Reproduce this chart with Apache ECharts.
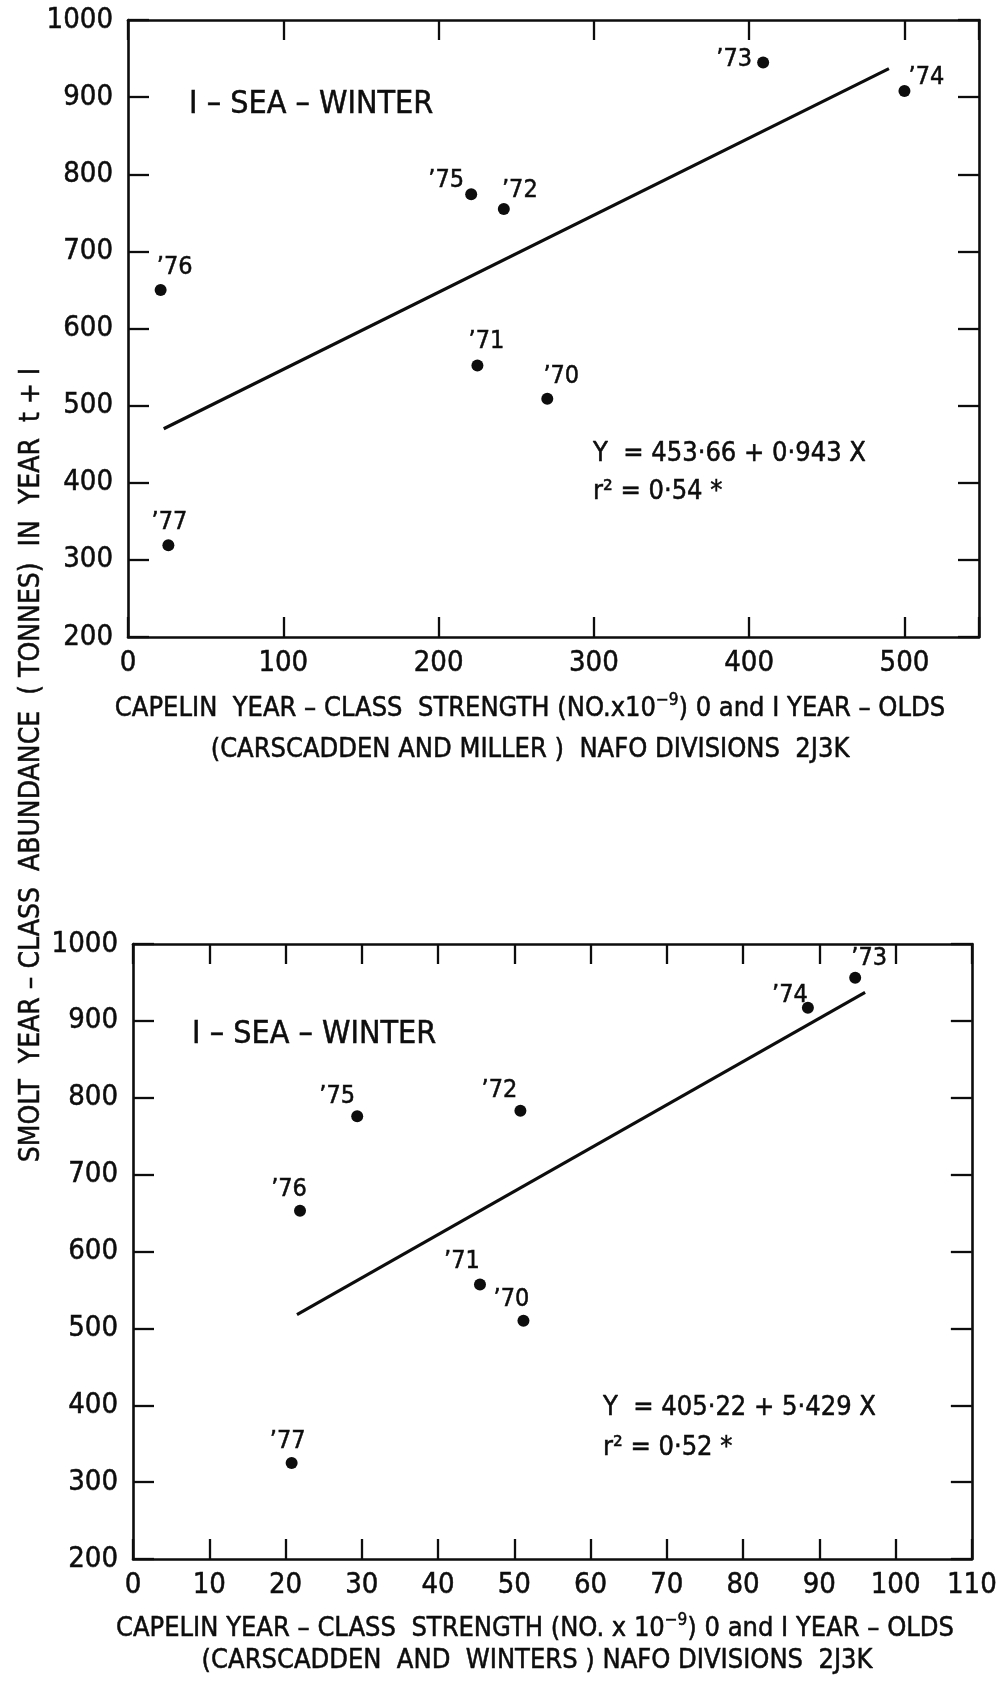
<!DOCTYPE html>
<html>
<head>
<meta charset="utf-8">
<script src="https://cdn.jsdelivr.net/npm/echarts@6/dist/echarts.min.js"></script>
<style>
  html, body { margin: 0; padding: 0; background: #fff; }
  #chart { width: 1000px; height: 1681px; }
</style>
</head>
<body>
<div id="chart"></div>
<script>
// Capelin year-class strength against 1-sea-winter smolt year-class abundance, NAFO 2J3K

const yearLabels = ['\u201970', '\u201971', '\u201972', '\u201973', '\u201974', '\u201975', '\u201976', '\u201977'];

// Upper panel: Carscadden and Miller capelin estimates (No. x 10^-9)
const capelinMiller = [270, 225, 242, 409, 500, 221, 21, 26];
const smoltUpper    = [509, 552, 755, 945, 908, 774, 650, 319];
const fitUpperX = [23, 490];
const fitUpperY = [470, 937];

// Lower panel: Carscadden and Winters capelin estimates (No. x 10^-9)
const capelinWinters = [51.2, 45.5, 50.8, 94.7, 88.5, 29.4, 21.9, 20.8];
const smoltLower     = [510, 557, 783, 956, 917, 776, 653, 325];
const fitLowerX = [21.5, 96];
const fitLowerY = [518, 937];

// Axis ranges and tick steps
const smoltRange = [200, 1000], smoltStep = 100;
const millerRange = [0, 548], millerStep = 100;
const wintersRange = [0, 110], wintersStep = 10;

// Year-tag placement next to each point, in screen pixels (same order as yearLabels)
const tagShiftUpper = [[14, -22], [9, -24], [16, -18], [-29, -3], [22, -13], [-25, -14], [14, -22], [1, -23]];
const tagShiftLower = [[-12, -21], [-18, -23], [-21, -20], [14, -19], [-18, -12], [-20, -20], [-11, -21], [-4, -21]];

const FONT = "'Liberation Sans Narrow','DejaVu Sans Condensed','Roboto Condensed','Liberation Sans',sans-serif";
const INK = '#0d0d0d';
const heavy = { textBorderColor: INK, textBorderWidth: 0.5 };

function points(xs, ys, shifts) {
  return xs.map((x, i) => ({
    name: yearLabels[i],
    value: [x, ys[i]],
    label: { offset: shifts[i] }
  }));
}
function pairs(xs, ys) { return xs.map((x, i) => [x, ys[i]]); }

const lineStyle = { color: INK, width: 2.6 };
const tickStyle = { color: INK, width: 2.3 };
function xAxes(gridIndex, range, step) {
  const base = {
    gridIndex, type: 'value', min: range[0], max: range[1], interval: step,
    splitLine: { show: false },
    axisLine: { show: true, onZero: false, lineStyle },
    axisTick: { show: true, inside: true, length: 20, lineStyle: tickStyle }
  };
  return [
    Object.assign({}, base, {
      position: 'bottom',
      axisLabel: Object.assign({
        show: true, color: INK, fontFamily: FONT, fontSize: 29, margin: 12,
        formatter: v => (v % step === 0 ? String(v) : '')
      }, heavy)
    }),
    Object.assign({}, base, { position: 'top', axisLabel: { show: false } })
  ];
}
function yAxes(gridIndex) {
  const base = {
    gridIndex, type: 'value', min: smoltRange[0], max: smoltRange[1], interval: smoltStep,
    splitLine: { show: false },
    axisLine: { show: true, onZero: false, lineStyle },
    axisTick: { show: true, inside: true, length: 21, lineStyle: tickStyle }
  };
  return [
    Object.assign({}, base, {
      position: 'left',
      axisLabel: Object.assign({
        show: true, color: INK, fontFamily: FONT, fontSize: 29, margin: 15,
        formatter: v => String(v)
      }, heavy)
    }),
    Object.assign({}, base, { position: 'right', axisLabel: { show: false } })
  ];
}

function scatterSeries(xi, yi, data) {
  return {
    type: 'scatter', xAxisIndex: xi, yAxisIndex: yi, data,
    symbol: 'circle', symbolSize: 12,
    itemStyle: { color: INK, opacity: 1 },
    label: Object.assign({
      show: true, position: 'inside', formatter: p => p.name,
      color: INK, fontFamily: FONT, fontSize: 25
    }, heavy),
    emphasis: { disabled: true },
    z: 3
  };
}
function fitSeries(xi, yi, data) {
  return {
    type: 'line', xAxisIndex: xi, yAxisIndex: yi, data,
    symbol: 'none', lineStyle: { color: INK, width: 3.2 }, z: 2
  };
}

// Axis title with a raised exponent
const titleRich = {
  a: { fontFamily: FONT, fontSize: 27, fill: INK, lineHeight: 34 },
  sup: { fontFamily: FONT, fontSize: 17, fill: INK, lineHeight: 34, padding: [0, 0, 16, 0] }
};
function richTitle(x, y, str) {
  return {
    type: 'text', x, y,
    style: {
      text: str, rich: titleRich, fill: INK, stroke: INK, lineWidth: 0.5,
      fontFamily: FONT, fontSize: 27,
      textAlign: 'center', textVerticalAlign: 'middle'
    }
  };
}
function text(x, y, str, size, extra) {
  return Object.assign({
    type: 'text', x, y,
    style: Object.assign({
      text: str, fill: INK, fontFamily: FONT, fontSize: size,
      textAlign: 'left', textVerticalAlign: 'middle',
      stroke: INK, lineWidth: 0.5
    }, (extra && extra.style) || {})
  }, extra && extra.el ? extra.el : {});
}

const chart = echarts.init(document.getElementById('chart'), null, { renderer: 'canvas' });
chart.setOption({
  backgroundColor: '#fff',
  animation: false,
  grid: [
    { left: 128, right: 21, top: 20, height: 617 },
    { left: 133, right: 16, top: 944, height: 615 }
  ],
  xAxis: [].concat(xAxes(0, millerRange, millerStep), xAxes(1, wintersRange, wintersStep)),
  yAxis: [].concat(yAxes(0), yAxes(1)),
  series: [
    fitSeries(0, 0, pairs(fitUpperX, fitUpperY)),
    scatterSeries(0, 0, points(capelinMiller, smoltUpper, tagShiftUpper)),
    fitSeries(2, 2, pairs(fitLowerX, fitLowerY)),
    scatterSeries(2, 2, points(capelinWinters, smoltLower, tagShiftLower))
  ],
  graphic: [
    // panel tags
    text(189, 105, 'I \u2013 SEA \u2013 WINTER', 32),
    text(192, 1035, 'I \u2013 SEA \u2013 WINTER', 32),
    // regression statistics
    text(593, 454, 'Y  = 453\u00b766 + 0\u00b7943 X', 27),
    text(593, 492, 'r\u00b2 = 0\u00b754 *', 27),
    text(603, 1408, 'Y  = 405\u00b722 + 5\u00b7429 X', 27),
    text(603, 1448, 'r\u00b2 = 0\u00b752 *', 27),
    // x-axis titles
    richTitle(530, 709, '{a|CAPELIN  YEAR \u2013 CLASS  STRENGTH (NO.x10}{sup|\u22129}{a|) 0 and I YEAR \u2013 OLDS}'),
    text(530, 750, '(CARSCADDEN AND MILLER )  NAFO DIVISIONS  2J3K', 27, { style: { textAlign: 'center' } }),
    richTitle(535, 1629, '{a|CAPELIN YEAR \u2013 CLASS  STRENGTH (NO. x 10}{sup|\u22129}{a|) 0 and I YEAR \u2013 OLDS}'),
    text(537, 1661, '(CARSCADDEN  AND  WINTERS ) NAFO DIVISIONS  2J3K', 27, { style: { textAlign: 'center' } }),
    // shared y-axis title
    text(32, 765, 'SMOLT  YEAR \u2013 CLASS  ABUNDANCE  ( TONNES)  IN  YEAR  t + I', 28,
      { style: { textAlign: 'center' }, el: { rotation: Math.PI / 2 } })
  ]
});
</script>
</body>
</html>
